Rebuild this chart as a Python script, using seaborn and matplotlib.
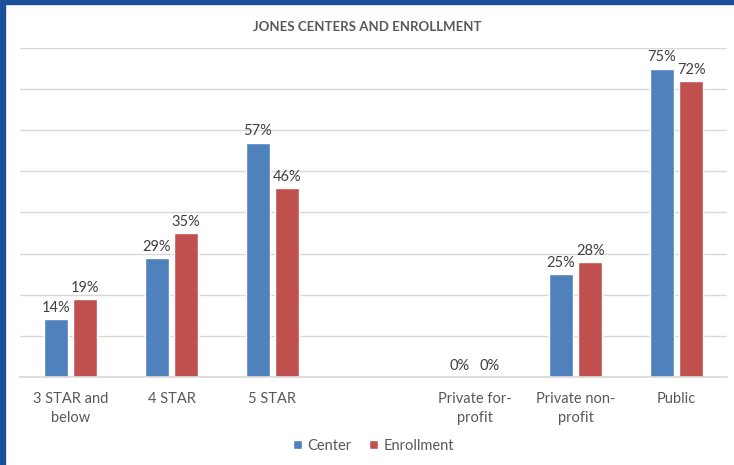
import matplotlib
matplotlib.use("Agg")
import matplotlib.pyplot as plt
import seaborn as sns
import pandas as pd
from matplotlib.patches import Rectangle

categories = ["3 STAR and\nbelow", "4 STAR", "5 STAR", " ", "Private for-\nprofit", "Private non-\nprofit", "Public"]
center = [14, 29, 57, None, 0, 25, 75]
enrollment = [19, 35, 46, None, 0, 28, 72]
series = ["Center", "Enrollment"]
colors = ["#4F81BD", "#C0504D"]

rows = []
for c, a, b in zip(categories, center, enrollment):
    if a is not None:
        rows.append({"cat": c, "series": "Center", "val": a})
        rows.append({"cat": c, "series": "Enrollment", "val": b})
df = pd.DataFrame(rows)

sns.set_theme(style="white")
plt.rcParams["font.family"] = ["Lato", "DejaVu Sans"]

fig = plt.figure(figsize=(7.34, 4.65), dpi=100)
ax = fig.add_axes([20/734, 1-377/465, 707/734, (377-48)/465])

sns.barplot(data=df, x="cat", y="val", hue="series", order=categories, hue_order=series,
            palette=colors, width=0.58, gap=0.2, ax=ax, errorbar=None, saturation=1)

ax.set_ylim(0, 80)
ax.set_yticks(range(0, 81, 10))
ax.yaxis.grid(True, color="#D9D9D9", linewidth=1)
ax.set_axisbelow(True)
ax.tick_params(axis="y", left=False, labelleft=False)
ax.tick_params(axis="x", bottom=False, labelsize=10.5, colors="#595959", pad=5)
for lbl in ax.get_xticklabels():
    lbl.set_linespacing(1.45)
for s in ["top", "right", "left"]:
    ax.spines[s].set_visible(False)
ax.spines["bottom"].set_color("#D9D9D9")
ax.set_xlabel("")
ax.set_ylabel("")

for cont in ax.containers:
    ax.bar_label(cont, labels=[f"{v:.0f}%" for v in cont.datavalues], padding=3,
                 fontsize=10.5, color="#404040")

ax.legend(loc="upper center", bbox_to_anchor=(0.5, -0.148), ncol=2, frameon=False,
          fontsize=10.5, handlelength=0.6, handleheight=0.6, handletextpad=0.4,
          columnspacing=1.2, labelcolor="#595959")

fig.text(0.5, 1-27/465, "JONES CENTERS AND ENROLLMENT", ha="center", va="center",
         fontsize=9.5, fontweight="bold", color="#595959")

fig.patches.append(Rectangle((0, 1-4/465), 1, 4/465, transform=fig.transFigure,
                             color="#1B4F9C", zorder=10))
fig.patches.append(Rectangle((0, 0), 5/734, 1, transform=fig.transFigure,
                             color="#1B4F9C", zorder=10))

fig.savefig("out.png", dpi=100)
